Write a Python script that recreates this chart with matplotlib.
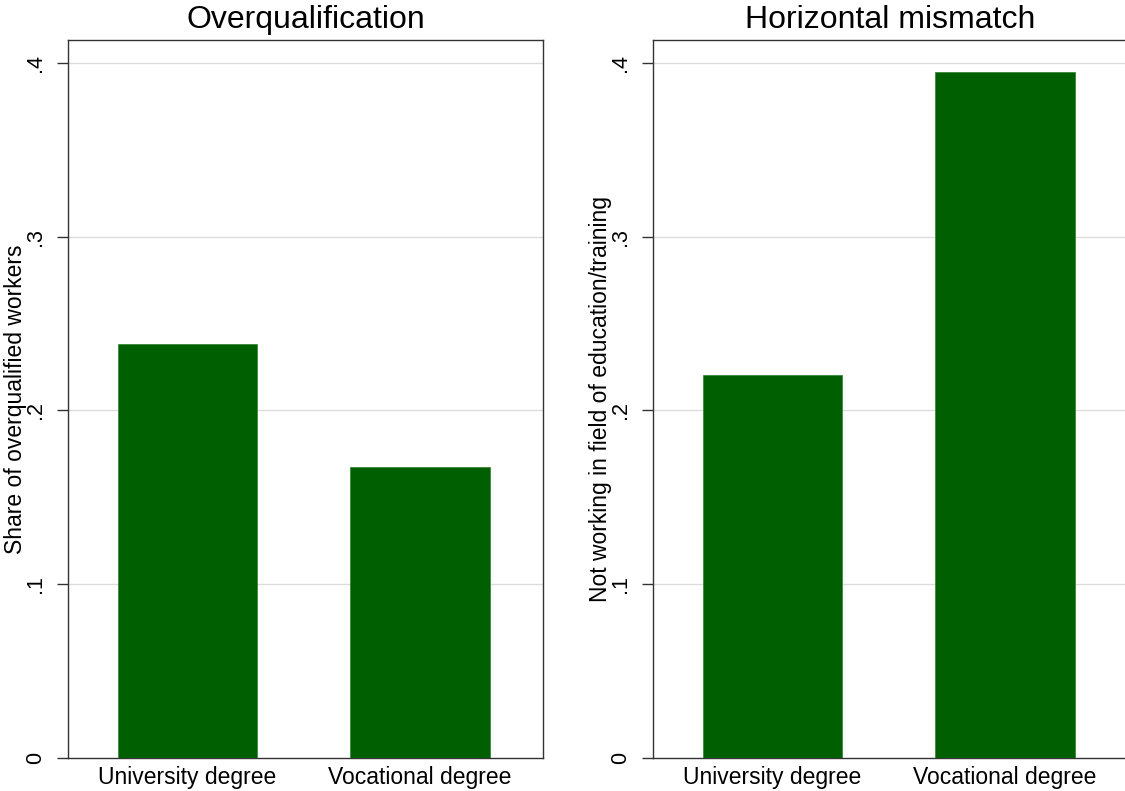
import matplotlib
matplotlib.use('Agg')
import matplotlib.pyplot as plt

# Values
categories = ['University degree', 'Vocational degree']
overqual = [0.2383, 0.1675]
horizontal = [0.2204, 0.3948]
titles = ['Overqualification', 'Horizontal mismatch']
ylabels = ['Share of overqualified workers', 'Not working in field of education/training']
yticks = [0, 0.1, 0.2, 0.3, 0.4]
ytick_labels = ['0', '.1', '.2', '.3', '.4']

plt.rcParams['font.family'] = ['Liberation Sans', 'DejaVu Sans']

fig = plt.figure(figsize=(11.25, 7.91), dpi=100)
ax1 = fig.add_axes([0.0604, 0.0417, 0.4222, 0.9077])
ax2 = fig.add_axes([0.5804, 0.0417, 0.4222, 0.9077])

for ax, vals, title, ylab in zip([ax1, ax2], [overqual, horizontal], titles, ylabels):
    ax.bar(range(len(categories)), vals, width=0.6, color='#005f00',
           edgecolor='#3a8a3a', linewidth=0.6, zorder=3)
    ax.set_xlim(-0.515, 1.53)
    ax.set_ylim(0, 0.4132)
    ax.set_yticks(yticks)
    ax.set_yticklabels(ytick_labels, rotation=90, va='center', fontsize=15.5)
    ax.set_xticks(range(len(categories)))
    ax.set_xticklabels(categories, fontsize=16.5)
    ax.tick_params(axis='x', length=0, pad=6)
    ax.tick_params(axis='y', length=8, width=1, color='#333333', pad=8)
    for y in yticks[1:]:
        ax.axhline(y, color='#dcdcdc', linewidth=1, zorder=1)
    for s in ax.spines.values():
        s.set_color('#333333')
        s.set_linewidth(1)
    ax.set_title(title, fontsize=23, pad=9)
    ax.set_ylabel(ylab, fontsize=16.5)
    ax.yaxis.set_label_coords(-0.087, 0.5)

fig.savefig('out.png', dpi=100)
